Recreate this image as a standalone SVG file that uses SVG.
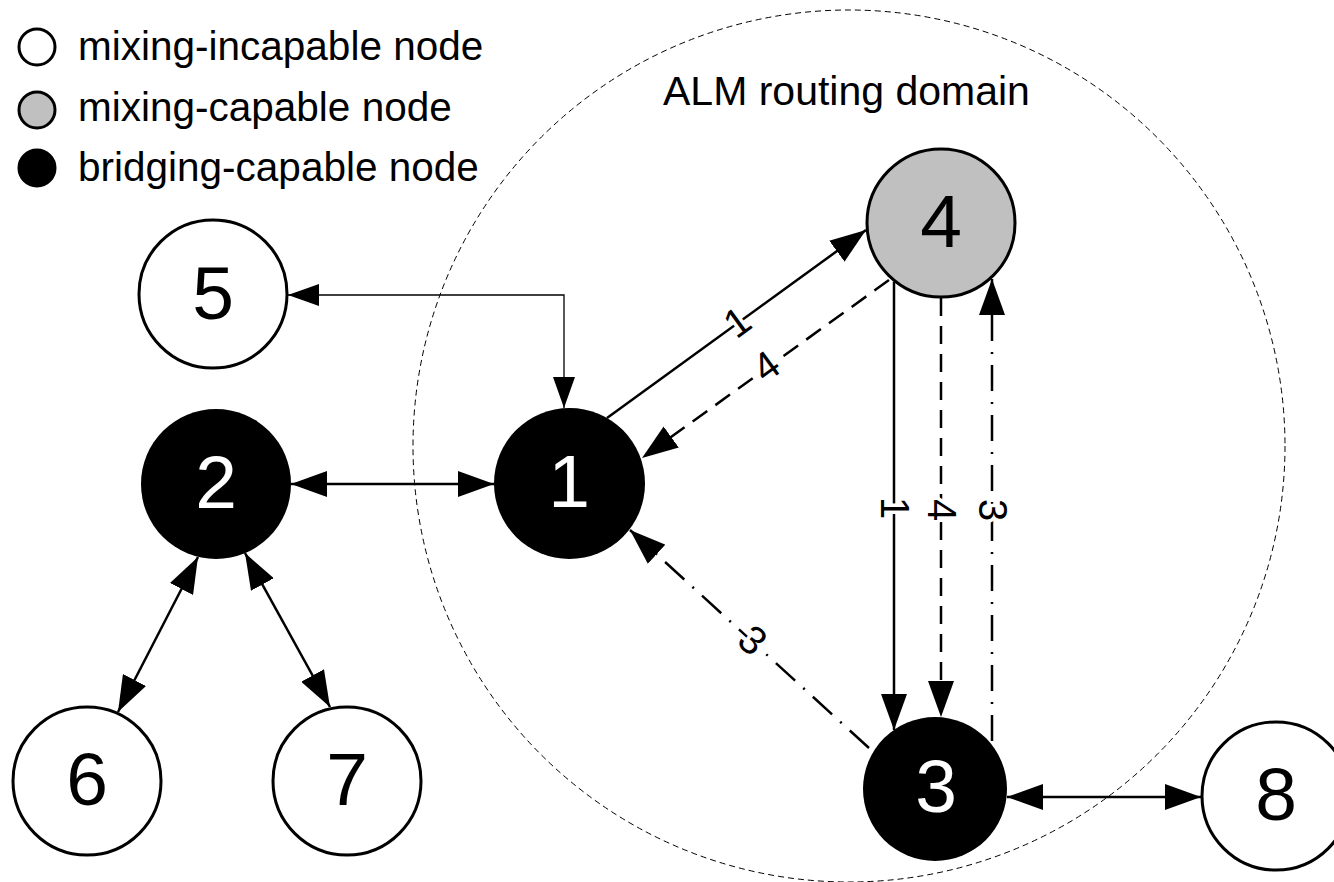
<svg xmlns="http://www.w3.org/2000/svg" width="1334" height="882" viewBox="0 0 1334 882">
<style>
text{font-family:"Liberation Sans",Arial,sans-serif;fill:#000}
.leg{font-size:40.5px}
.num{font-size:75px;text-anchor:middle}
.wn{fill:#fff}
.lbl{font-size:40px;text-anchor:middle;dominant-baseline:central;stroke:#fff;stroke-width:7px;paint-order:stroke;stroke-linejoin:round}
.node{stroke:#000;stroke-width:3}
.white{fill:#fff}
.gray{fill:#c0c0c0}
.black{fill:#000}
.e{fill:none;stroke:#000;stroke-width:2.5}
.thin{stroke-width:1.3}
.dash{stroke-dasharray:18 10}
.dd{stroke-dasharray:26 11 2 11}
</style>
<defs>
<marker id="a" markerUnits="userSpaceOnUse" markerWidth="36" markerHeight="26" refX="36" refY="13" orient="auto-start-reverse" viewBox="0 0 36 26">
<path d="M0,0 L36,13 L0,26 Z" fill="#000"/>
</marker>
<marker id="s" markerUnits="userSpaceOnUse" markerWidth="31" markerHeight="22" refX="31" refY="11" orient="auto-start-reverse" viewBox="0 0 31 22">
<path d="M0,0 L31,11 L0,22 Z" fill="#000"/>
</marker>
</defs>
<rect width="1334" height="882" fill="#fff"/>
<g id="legend">
<circle cx="37" cy="47" r="18" class="node white"/>
<circle cx="37" cy="110" r="18" class="node gray"/>
<circle cx="37" cy="168" r="18" class="node black"/>
<text class="leg" x="78" y="60">mixing-incapable node</text>
<text class="leg" x="78" y="121">mixing-capable node</text>
<text class="leg" x="78" y="181">bridging-capable node</text>
</g>
<g id="domain">
<circle cx="849" cy="446" r="436" fill="none" stroke="#000" stroke-width="1" stroke-dasharray="6 4"/>
<text x="663" y="105" font-size="41">ALM routing domain</text>
</g>
<g id="connectors">
<path class="e thin" d="M288,295 H564 V408" marker-start="url(#s)" marker-end="url(#s)"/>
<path class="e" d="M291,484 H494" marker-start="url(#a)" marker-end="url(#a)"/>
<path class="e" d="M198,557 L118,712" marker-start="url(#a)" marker-end="url(#a)"/>
<path class="e" d="M245,553 L330,707" marker-start="url(#a)" marker-end="url(#a)"/>
<path class="e" d="M607,418 L866,230" marker-end="url(#a)"/>
<path class="e dash" d="M889,280 L642,458" marker-end="url(#a)"/>
<path class="e" d="M894,282 L894,730" marker-end="url(#a)"/>
<path class="e dash" d="M941,298 L941,717" marker-end="url(#a)"/>
<path class="e dd" d="M992,741 L992,279" marker-end="url(#a)"/>
<path class="e dd" d="M869,748 L630,530" marker-end="url(#a)"/>
<path class="e" d="M1007,797 H1201" marker-start="url(#a)" marker-end="url(#a)"/>
<text class="lbl" transform="translate(737,322) rotate(-36)">1</text>
<text class="lbl" transform="translate(766,366) rotate(-36)">4</text>
<text class="lbl" transform="translate(895,508) rotate(90)">1</text>
<text class="lbl" transform="translate(942,510) rotate(90)">4</text>
<text class="lbl" transform="translate(993,510) rotate(90)">3</text>
<text class="lbl" transform="translate(753,640) rotate(42)">3</text>
</g>
<g id="node1"><circle cx="569.5" cy="483.5" r="75.5" class="black"/><text class="num wn" x="569" y="507">1</text></g>
<g id="node2"><circle cx="216" cy="484" r="75" class="black"/><text class="num wn" x="216" y="508">2</text></g>
<g id="node3"><circle cx="935" cy="789" r="72" class="black"/><text class="num wn" x="936" y="812">3</text></g>
<g id="node4"><circle cx="941" cy="223" r="74" class="node gray"/><text class="num" x="941" y="247">4</text></g>
<g id="node5"><circle cx="213" cy="294" r="74" class="node white"/><text class="num" x="213" y="319">5</text></g>
<g id="node6"><circle cx="87" cy="781" r="74" class="node white"/><text class="num" x="87" y="805">6</text></g>
<g id="node7"><circle cx="347" cy="781" r="74" class="node white"/><text class="num" x="347" y="805">7</text></g>
<g id="node8"><circle cx="1276" cy="796" r="74" class="node white"/><text class="num" x="1276" y="820">8</text></g>
</svg>
